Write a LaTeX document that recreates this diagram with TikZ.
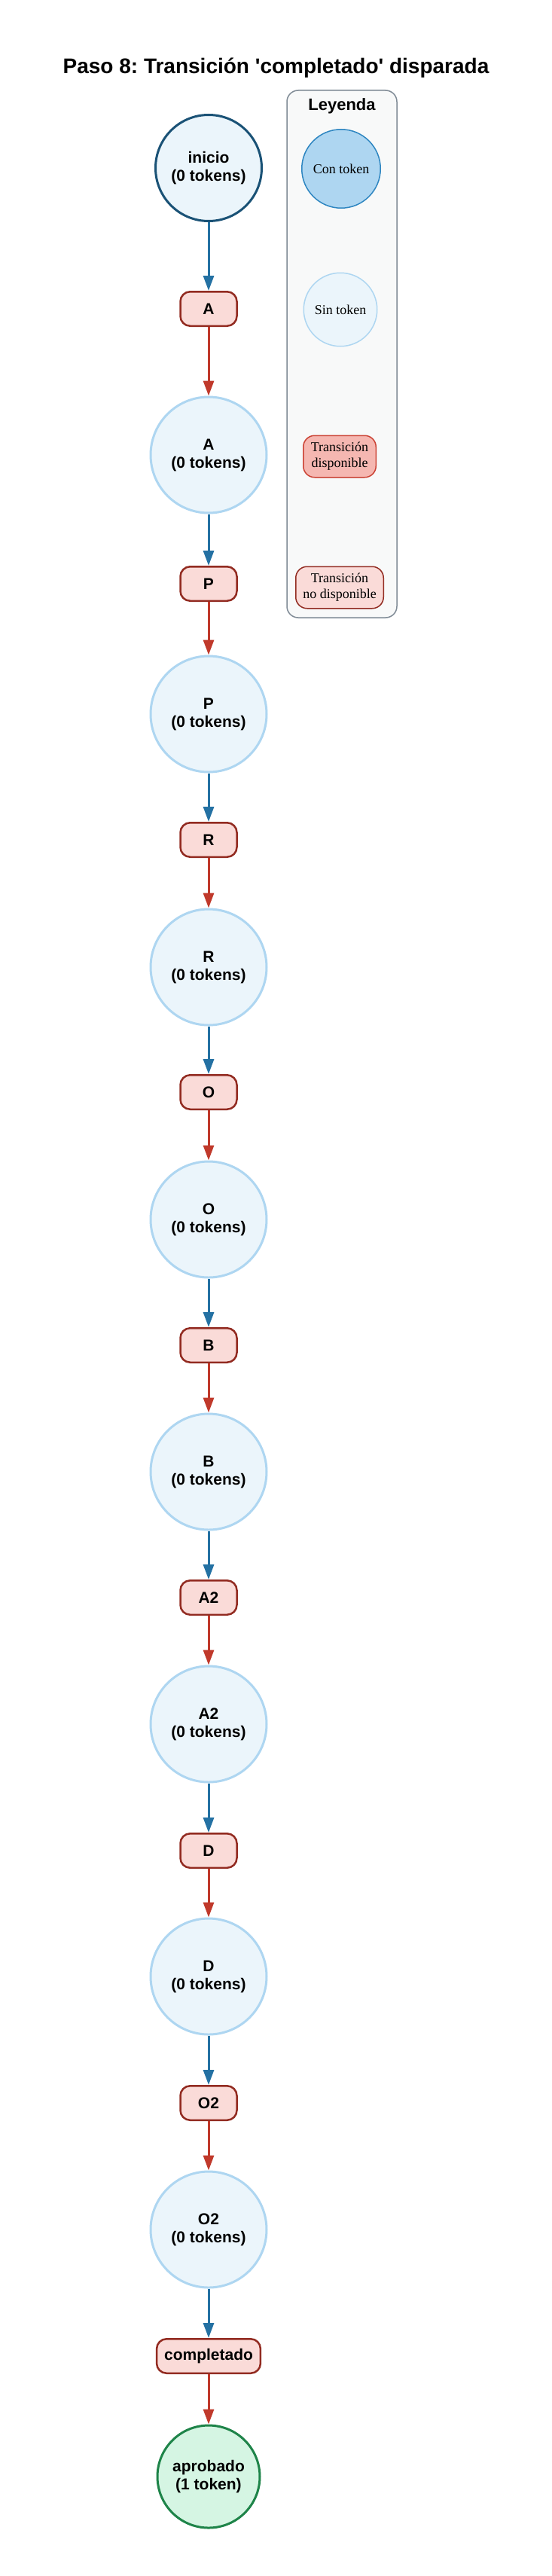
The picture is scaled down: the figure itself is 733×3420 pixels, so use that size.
\documentclass[tikz,border=0pt]{standalone}
\usepackage{fontspec}
\setmainfont{Liberation Serif}
\setsansfont{Liberation Sans}
\newfontfamily\titlefont{Liberation Sans}[Ligatures=TeXOff]
\usetikzlibrary{arrows.meta,shapes.geometric}
\frenchspacing
\definecolor{placefill}{HTML}{EBF5FB}
\definecolor{placedraw}{HTML}{AED6F1}
\definecolor{initdraw}{HTML}{1A5276}
\definecolor{tokfill}{HTML}{AED6F1}
\definecolor{tokdraw}{HTML}{2E86C1}
\definecolor{transfill}{HTML}{FADBD8}
\definecolor{transdraw}{HTML}{922B21}
\definecolor{availfill}{HTML}{F5B7B1}
\definecolor{availdraw}{HTML}{CB4335}
\definecolor{finfill}{HTML}{D5F5E3}
\definecolor{findraw}{HTML}{1E8449}
\definecolor{arcblue}{HTML}{2471A3}
\definecolor{arcred}{HTML}{C0392B}
\definecolor{legfill}{HTML}{F8F9F9}
\definecolor{legdraw}{HTML}{808B96}
\begin{document}
\begin{tikzpicture}[x=1pt,y=-1pt,
  nodefont/.style={font=\fontsize{21}{24}\selectfont\sffamily\bfseries},
  place/.style={circle,nodefont,align=center,inner sep=0pt,minimum size=154pt,fill=placefill,draw=placedraw,line width=3pt},
  initplace/.style={place,minimum size=141pt,draw=initdraw},
  finplace/.style={place,minimum size=136pt,fill=finfill,draw=findraw},
  trans/.style={rectangle,rounded corners=13pt,nodefont,inner xsep=10pt,inner ysep=0pt,minimum width=75pt,minimum height=45.5pt,fill=transfill,draw=transdraw,line width=2.5pt},
  legfont/.style={font=\fontsize{18}{21}\selectfont\rmfamily,align=center},
  arcpt/.style={arcblue,line width=3pt,-{Triangle[length=20pt,width=14pt]}},
  arctp/.style={arcred,line width=3pt,-{Triangle[length=20pt,width=14pt]}}
]
\useasboundingbox[fill=white] (0,0) rectangle (733,3420);
% title
\node[anchor=base,font=\fontsize{28}{32}\selectfont\titlefont\bfseries\frenchspacing] (title) at (366.5,98) {Paso 8: Transición 'completado' disparada};
% legend
\draw[fill=legfill,draw=legdraw,line width=1.5pt,rounded corners=15pt] (381,120) rectangle (527,820);
\node[anchor=base,font=\fontsize{22}{26}\selectfont\sffamily\bfseries] (leytitle) at (454,147) {Leyenda};
\node[circle,legfont,inner sep=0pt,minimum size=104.5pt,fill=tokfill,draw=tokdraw,line width=1.5pt] (lcon) at (453,224) {Con token};
\node[circle,legfont,inner sep=0pt,minimum size=97.5pt,fill=placefill,draw=placedraw,line width=1.5pt] (lsin) at (452,411) {Sin token};
\node[rectangle,rounded corners=15pt,legfont,inner sep=0pt,minimum width=96.5pt,minimum height=55.5pt,fill=availfill,draw=availdraw,line width=1.5pt] (ldisp) at (451,606) {Transición\\disponible};
\node[rectangle,rounded corners=15pt,legfont,inner sep=0pt,minimum width=116.5pt,minimum height=55.5pt,fill=transfill,draw=transdraw,line width=1.5pt] (lnodisp) at (451,780) {Transición\\no disponible};
% main chain
\node[initplace] (inicio) at (277,223) {inicio\\(0 tokens)};
\node[trans] (tA) at (277,410) {A};
\node[place] (pA) at (277,604) {A\\(0 tokens)};
\node[trans] (tP) at (277,775) {P};
\node[place] (pP) at (277,948) {P\\(0 tokens)};
\node[trans] (tR) at (277,1115) {R};
\node[place] (pR) at (277,1284) {R\\(0 tokens)};
\node[trans] (tO) at (277,1450) {O};
\node[place] (pO) at (277,1619) {O\\(0 tokens)};
\node[trans] (tB) at (277,1786) {B};
\node[place] (pB) at (277,1954) {B\\(0 tokens)};
\node[trans] (tA2) at (277,2121) {A2};
\node[place] (pA2) at (277,2289) {A2\\(0 tokens)};
\node[trans] (tD) at (277,2457) {D};
\node[place] (pD) at (277,2624) {D\\(0 tokens)};
\node[trans] (tO2) at (277,2792) {O2};
\node[place] (pO2) at (277,2960) {O2\\(0 tokens)};
\node[trans] (tC) at (277,3128) {completado};
\node[finplace] (aprobado) at (277,3288) {aprobado\\(1 token)};
% arcs
\draw[arcpt] (inicio) -- (tA);
\draw[arctp] (tA) -- (pA);
\draw[arcpt] (pA) -- (tP);
\draw[arctp] (tP) -- (pP);
\draw[arcpt] (pP) -- (tR);
\draw[arctp] (tR) -- (pR);
\draw[arcpt] (pR) -- (tO);
\draw[arctp] (tO) -- (pO);
\draw[arcpt] (pO) -- (tB);
\draw[arctp] (tB) -- (pB);
\draw[arcpt] (pB) -- (tA2);
\draw[arctp] (tA2) -- (pA2);
\draw[arcpt] (pA2) -- (tD);
\draw[arctp] (tD) -- (pD);
\draw[arcpt] (pD) -- (tO2);
\draw[arctp] (tO2) -- (pO2);
\draw[arcpt] (pO2) -- (tC);
\draw[arctp] (tC) -- (aprobado);
\end{tikzpicture}
\end{document}
